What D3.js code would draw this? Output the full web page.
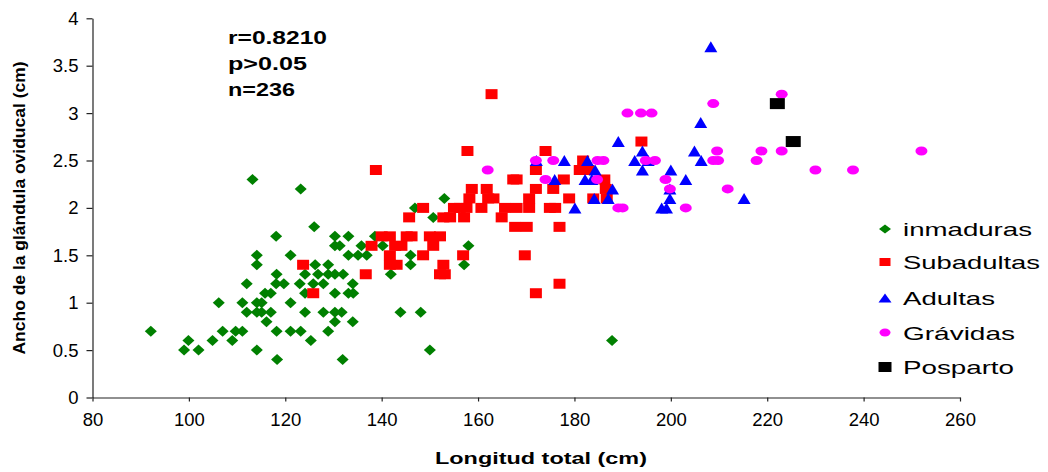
<!DOCTYPE html>
<html>
<head>
<meta charset="utf-8">
<script src="https://cdn.jsdelivr.net/npm/d3@7"></script>
<style>
  html, body { margin: 0; padding: 0; background: #ffffff; }
  svg { display: block; }
  text { font-family: "Liberation Sans", Arial, sans-serif; }
</style>
</head>
<body>
<div id="chart"></div>
<script>
// ---------- data ----------
const xTicks = [80, 100, 120, 140, 160, 180, 200, 220, 240, 260];
const yTicks = [0, 0.5, 1, 1.5, 2, 2.5, 3, 3.5, 4];
const seriesNames = ["inmaduras", "Subadultas", "Adultas", "Grávidas", "Posparto"];
const annotations = ["r=0.8210", "p>0.05", "n=236"];
const xTitle = "Longitud total (cm)";
const yTitle = "Ancho de la glándula oviducal (cm)";

const inmaduras = [
  [92.1,0.7],[99,0.5],[99.9,0.6],[102,0.5],[104.9,0.6],[106.2,1.0],[107,0.7],[109,0.6],[109.7,0.7],
  [111.1,0.7],[111.1,1.0],[112,0.9],[112,1.2],[113.2,2.3],[114.1,0.5],[114.1,0.9],[114.1,1.0],[114.1,1.4],
  [114.1,1.5],[115.1,0.9],[115.1,1.0],[115.8,1.1],[116.1,0.8],[117,0.9],[117,1.1],[118.1,1.2],[118.1,1.7],
  [118.2,1.3],[118.2,0.7],[118.3,0.4],[119.7,1.2],[121.1,0.7],[121.1,1.0],[121.1,1.5],[123,1.2],[123.2,0.7],
  [123.2,2.2],[124.1,0.9],[124.1,1.1],[124.1,1.3],[125.3,0.6],[125.8,1.2],[126,1.8],[126.2,1.4],[126.8,1.3],
  [127.9,0.9],[127.9,1.2],[128.9,0.7],[128.9,1.3],[128.9,1.4],[130.3,0.8],[130.3,0.9],[130.3,1.1],[130.3,1.3],
  [130.3,1.6],[130.3,1.7],[131.3,1.6],[131.7,0.9],[131.9,0.4],[132,1.3],[133.1,1.1],[133.1,1.5],[133.1,1.7],
  [134,0.8],[134,1.2],[134.1,1.1],[135.1,1.5],[135.8,1.6],[136.9,1.5],[138.6,1.7],[140.2,1.6],[141.9,1.3],
  [143.9,0.9],[146,1.4],[146,1.5],[146.9,2.0],[148.1,0.9],[150,0.5],[150.7,1.9],[153,2.1],[157.1,1.4],
  [158,1.6],[187.8,0.6]
];
const subadultas = [
  [123.7,1.4],[125.8,1.1],[136.7,1.3],[137.9,1.6],[138.8,2.4],[140,1.7],[141.7,1.7],[141.7,1.5],[141.7,1.4],
  [142.8,1.6],[143.1,1.4],[144.1,1.6],[145.2,1.7],[145.7,1.9],[146.2,1.7],[148.6,2.0],[148.6,1.5],[150,1.7],
  [150.7,1.6],[152.1,1.7],[152.1,1.3],[152.8,1.9],[152.8,1.4],[153.1,1.3],[154.2,1.9],[155,2.0],[156.2,2.0],
  [156.9,1.5],[157.1,1.9],[157.6,2.0],[157.8,2.6],[158.2,2.1],[158.7,2.2],[160.7,2.0],[161.8,2.2],[162.1,2.1],
  [162.8,3.2],[163.2,2.1],[164.9,1.9],[165.6,2.0],[167.3,2.3],[167.7,1.8],[168,2.3],[168,2.0],[169.7,1.5],
  [170.1,1.8],[170.6,2.1],[170.6,2.0],[172,2.4],[172,2.2],[172,1.1],[174,2.6],[174.9,2.0],[175.6,2.2],
  [176,2.0],[176.9,1.8],[176.9,1.2],[177.8,2.3],[178.9,2.1],[181.1,2.4],[181.8,2.5],[182.9,2.4],[183.9,2.1],
  [186.2,2.3],[186.5,2.2],[186.7,2.1],[193.9,2.7]
];
const adultas = [
  [172.1,2.5],[175.9,2.3],[177.9,2.5],[180.1,2.0],[182.2,2.3],[182.7,2.5],[183.6,2.3],[184.1,2.1],[184.3,2.4],
  [187,2.1],[187.9,2.2],[189.1,2.7],[192.5,2.5],[194.1,2.6],[194.1,2.4],[195.3,2.5],[198.1,2.0],[199.1,2.0],
  [199.8,2.2],[199.8,2.1],[200,2.4],[203.1,2.3],[204.9,2.6],[206.2,2.9],[206.3,2.5],[208.3,3.7],[215.2,2.1]
];
const gravidas = [
  [162,2.4],[172,2.5],[174,2.3],[175.6,2.5],[184.7,2.3],[184.8,2.5],[186,2.5],[189.1,2.0],[190,2.0],
  [191,3.0],[193.8,3.0],[194.8,2.5],[196,3.0],[196.7,2.5],[198.9,2.3],[199.8,2.2],[203.1,2.0],[208.8,3.1],
  [208.8,2.5],[209.6,2.6],[209.8,2.5],[211.8,2.2],[217.8,2.5],[218.8,2.6],[223,3.2],[223,2.6],[230,2.4],
  [237.8,2.4],[252,2.6]
];
const posparto = [[222.1,3.1],[225.4,2.7]];

// ---------- layout / styles ----------
const W = 1048, H = 472;
const colors = ["#008000", "#ff0000", "#0000ff", "#ff00ff", "#000000"];
const font = '"Liberation Sans", Arial, sans-serif';

// marker path generators (w = width, h = height), centred on 0,0
const shapes = {
  diamond: (w, h) => `M0,${-h/2}L${w/2},0L0,${h/2}L${-w/2},0Z`,
  rect: (w, h) => `M${-w/2},${-h/2}h${w}v${h}h${-w}Z`,
  triangle: (w, h) => `M0,${-h/2}L${w/2},${h/2}L${-w/2},${h/2}Z`,
  ellipse: (w, h) => `M${-w/2},0a${w/2},${h/2} 0 1,0 ${w},0a${w/2},${h/2} 0 1,0 ${-w},0Z`
};
const markerDefs = [
  { shape: "diamond", w: 12, h: 11 },
  { shape: "rect", w: 12, h: 10 },
  { shape: "triangle", w: 13, h: 11 },
  { shape: "ellipse", w: 12, h: 9 },
  { shape: "rect", w: 15, h: 11 }
];
const legendMarkerDefs = [
  { shape: "diamond", w: 12, h: 9 },
  { shape: "rect", w: 11, h: 8 },
  { shape: "triangle", w: 13, h: 9 },
  { shape: "ellipse", w: 11, h: 8 },
  { shape: "rect", w: 13, h: 10 }
];

const svg = d3.select("#chart").append("svg")
  .attr("width", W).attr("height", H)
  .attr("viewBox", `0 0 ${W} ${H}`);

const x = d3.scaleLinear().domain([80, 260]).range([92.5, 960]);
const y = d3.scaleLinear().domain([0, 4]).range([397.5, 18.3]);

// axes
const xAxis = svg.append("g")
  .attr("transform", `translate(0,${y(0)})`)
  .call(d3.axisBottom(x).tickValues(xTicks).tickSize(4).tickSizeOuter(0).tickPadding(11)
        .tickFormat(d3.format("d")));
const yAxis = svg.append("g")
  .attr("transform", `translate(${x(80)},0)`)
  .call(d3.axisLeft(y).tickValues(yTicks).tickSize(6).tickSizeOuter(0).tickPadding(8)
        .tickFormat(d => String(d)));

[xAxis, yAxis].forEach(g => {
  g.select(".domain").attr("stroke", "#222").attr("stroke-width", 1.2);
  g.selectAll(".tick line").attr("stroke", "#222").attr("stroke-width", 1.2);
  g.selectAll(".tick text").attr("fill", "#000").style("font-family", font).style("font-size", "18.5px");
});

// series
const allSeries = [inmaduras, subadultas, adultas, gravidas, posparto];
allSeries.forEach((data, i) => {
  const m = markerDefs[i];
  svg.append("g").selectAll("path").data(data).join("path")
    .attr("transform", d => `translate(${x(d[0])},${y(d[1])})`)
    .attr("d", shapes[m.shape](m.w, m.h))
    .attr("fill", colors[i]);
});

// annotations
const annY = [44, 70, 96];
const annLen = [99, 79, 67];
annotations.forEach((t, i) => {
  svg.append("text").attr("x", 228).attr("y", annY[i])
    .attr("textLength", annLen[i]).attr("lengthAdjust", "spacingAndGlyphs")
    .style("font-family", font).style("font-size", "18px").style("font-weight", "bold")
    .attr("fill", "#000").text(t);
});

// legend
const legY = [229, 262, 298, 332.5, 367];
const legLen = [129, 137, 92, 112, 111];
seriesNames.forEach((name, i) => {
  const m = legendMarkerDefs[i];
  svg.append("path").attr("transform", `translate(885,${legY[i]})`)
    .attr("d", shapes[m.shape](m.w, m.h)).attr("fill", colors[i]);
  svg.append("text").attr("x", 903).attr("y", legY[i] + 7)
    .attr("textLength", legLen[i]).attr("lengthAdjust", "spacingAndGlyphs")
    .style("font-family", font).style("font-size", "19px")
    .attr("fill", "#000").text(name);
});

// axis titles
svg.append("text").attr("x", 541).attr("y", 464)
  .attr("text-anchor", "middle")
  .attr("textLength", 212).attr("lengthAdjust", "spacingAndGlyphs")
  .style("font-family", font).style("font-size", "17px").style("font-weight", "bold")
  .text(xTitle);
svg.append("text").attr("transform", "translate(25,208) rotate(-90)")
  .attr("text-anchor", "middle")
  .attr("textLength", 293).attr("lengthAdjust", "spacingAndGlyphs")
  .style("font-family", font).style("font-size", "16px").style("font-weight", "bold")
  .text(yTitle);
</script>
</body>
</html>
